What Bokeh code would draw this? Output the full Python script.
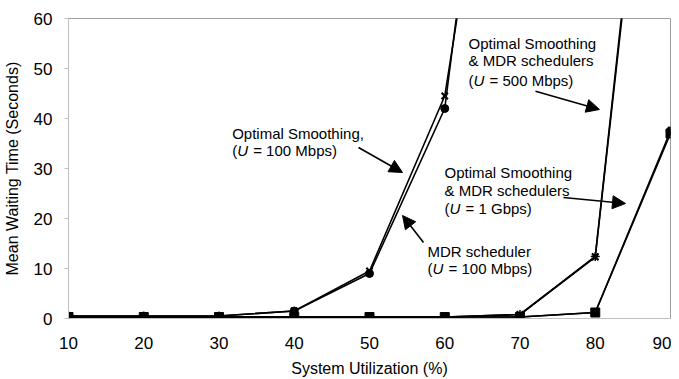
from bokeh.plotting import figure
from bokeh.models import Label, Arrow, NormalHead, Range1d, FixedTicker
from bokeh.embed import file_html
from bokeh.resources import INLINE

util = [10, 20, 30, 40, 50, 60, 70, 80, 90]
util_100 = [10, 20, 30, 40, 50, 60, 70]
os_100 = [0.5, 0.5, 0.5, 1.5, 9.0, 42.0, 160.0]
mdr_100 = [0.5, 0.5, 0.5, 1.5, 9.5, 44.5, 140.0]
os_500 = [0.3, 0.3, 0.3, 0.3, 0.3, 0.3, 0.8, 12.3, 147.0]
mdr_500 = [0.3, 0.3, 0.3, 0.3, 0.3, 0.3, 0.8, 12.4, 150.0]
os_1g = [0.3, 0.3, 0.3, 0.3, 0.3, 0.3, 0.3, 1.2, 37.0]
mdr_1g = [0.3, 0.3, 0.3, 0.3, 0.3, 0.3, 0.3, 1.2, 37.5]
y_ticks = [0, 10, 20, 30, 40, 50, 60]
x_ticks = [10, 20, 30, 40, 50, 60, 70, 80, 90]

FONT = "Liberation Sans"

p = figure(frame_width=602, frame_height=300, output_backend="svg", toolbar_location=None,
           x_range=Range1d(10, 90), y_range=Range1d(0, 60),
           min_border_left=60, min_border_right=1, min_border_top=18, min_border_bottom=45)
p.outline_line_color = "#a0a0a0"
p.outline_line_width = 1
p.xgrid.visible = False
p.ygrid.visible = False
p.background_fill_color = "white"

p.xaxis.ticker = FixedTicker(ticks=x_ticks)
p.yaxis.ticker = FixedTicker(ticks=y_ticks)
for ax in (p.xaxis[0], p.yaxis[0]):
    ax.axis_line_color = "#c0c0c0"
    ax.major_tick_line_color = "#c0c0c0"
    ax.minor_tick_line_color = None
    ax.major_label_text_font = FONT
    ax.major_label_text_font_size = "17px"
    ax.major_label_text_color = "black"
    ax.axis_label_text_font = FONT
    ax.axis_label_text_font_size = "16px"
    ax.axis_label_text_font_style = "normal"
    ax.axis_label_text_color = "black"
p.xaxis.major_tick_line_color = None
p.xaxis.major_label_standoff = 12
p.yaxis.major_tick_out = 4
p.yaxis.major_tick_in = 0
p.yaxis.major_label_standoff = 12
p.xaxis.axis_label = "System Utilization (%)"
p.yaxis.axis_label = "Mean Waiting Time (Seconds)"
p.xaxis.axis_label_standoff = 8
p.yaxis.axis_label_standoff = 10

LW = 1.6
p.line(util_100, os_100, line_color="black", line_width=LW)
p.line(util_100, mdr_100, line_color="black", line_width=LW)
p.line(util, os_500, line_color="black", line_width=LW)
p.line(util, mdr_500, line_color="black", line_width=LW)
p.line(util, os_1g, line_color="black", line_width=LW)
p.line(util, mdr_1g, line_color="black", line_width=LW)

p.scatter(util_100, os_100, marker="circle", size=8, color="black")
p.scatter(util_100, mdr_100, marker="x", size=9, line_color="black", line_width=2)
p.scatter(util, os_500, marker="x", size=9, line_color="black", line_width=2)
p.scatter(util, mdr_500, marker="asterisk", size=9, line_color="black", line_width=1.5)
p.scatter(util, os_1g, marker="square", size=9, color="black")
p.scatter(util[-1:], mdr_1g[-1:], marker="hex", size=9, color="black")

def add_text(x, y, parts, size="15px"):
    off = 0
    for txt, italic, w in parts:
        p.add_layout(Label(x=x, y=y, x_offset=off, text=txt, text_font=FONT,
                           text_font_size=size, text_color="black",
                           text_font_style="italic" if italic else "normal",
                           text_baseline="middle", text_align="left"))
        off += w

def u_line(x, y, rest):
    add_text(x, y, [("(", False, 5), ("U", True, 16), (rest, False, 0)])

add_text(31.75, 37.0, [("Optimal Smoothing,", False, 0)])
u_line(31.75, 33.6, "= 100 Mbps)")

add_text(63.16, 55.1, [("Optimal Smoothing", False, 0)])
add_text(63.16, 51.6, [("& MDR schedulers", False, 0)])
u_line(63.16, 47.6, "= 500 Mbps)")

add_text(59.97, 29.2, [("Optimal Smoothing", False, 0)])
add_text(59.97, 25.6, [("& MDR schedulers", False, 0)])
u_line(59.97, 22.0, "= 1 Gbps)")

add_text(57.71, 13.4, [("MDR scheduler", False, 0)])
u_line(57.71, 10.0, "= 100 Mbps)")

def arrow(x0, y0, x1, y1):
    p.add_layout(Arrow(x_start=x0, y_start=y0, x_end=x1, y_end=y1,
                       line_color="black", line_width=1.6,
                       end=NormalHead(size=13, fill_color="black", line_color="black")))

arrow(48.54, 34.2, 54.39, 29.2)
arrow(72.06, 45.46, 80.56, 41.8)
arrow(75.78, 24.2, 84.02, 23.0)
arrow(57.18, 15.2, 54.39, 20.6)

open("out.html", "w").write(file_html(p, INLINE))
